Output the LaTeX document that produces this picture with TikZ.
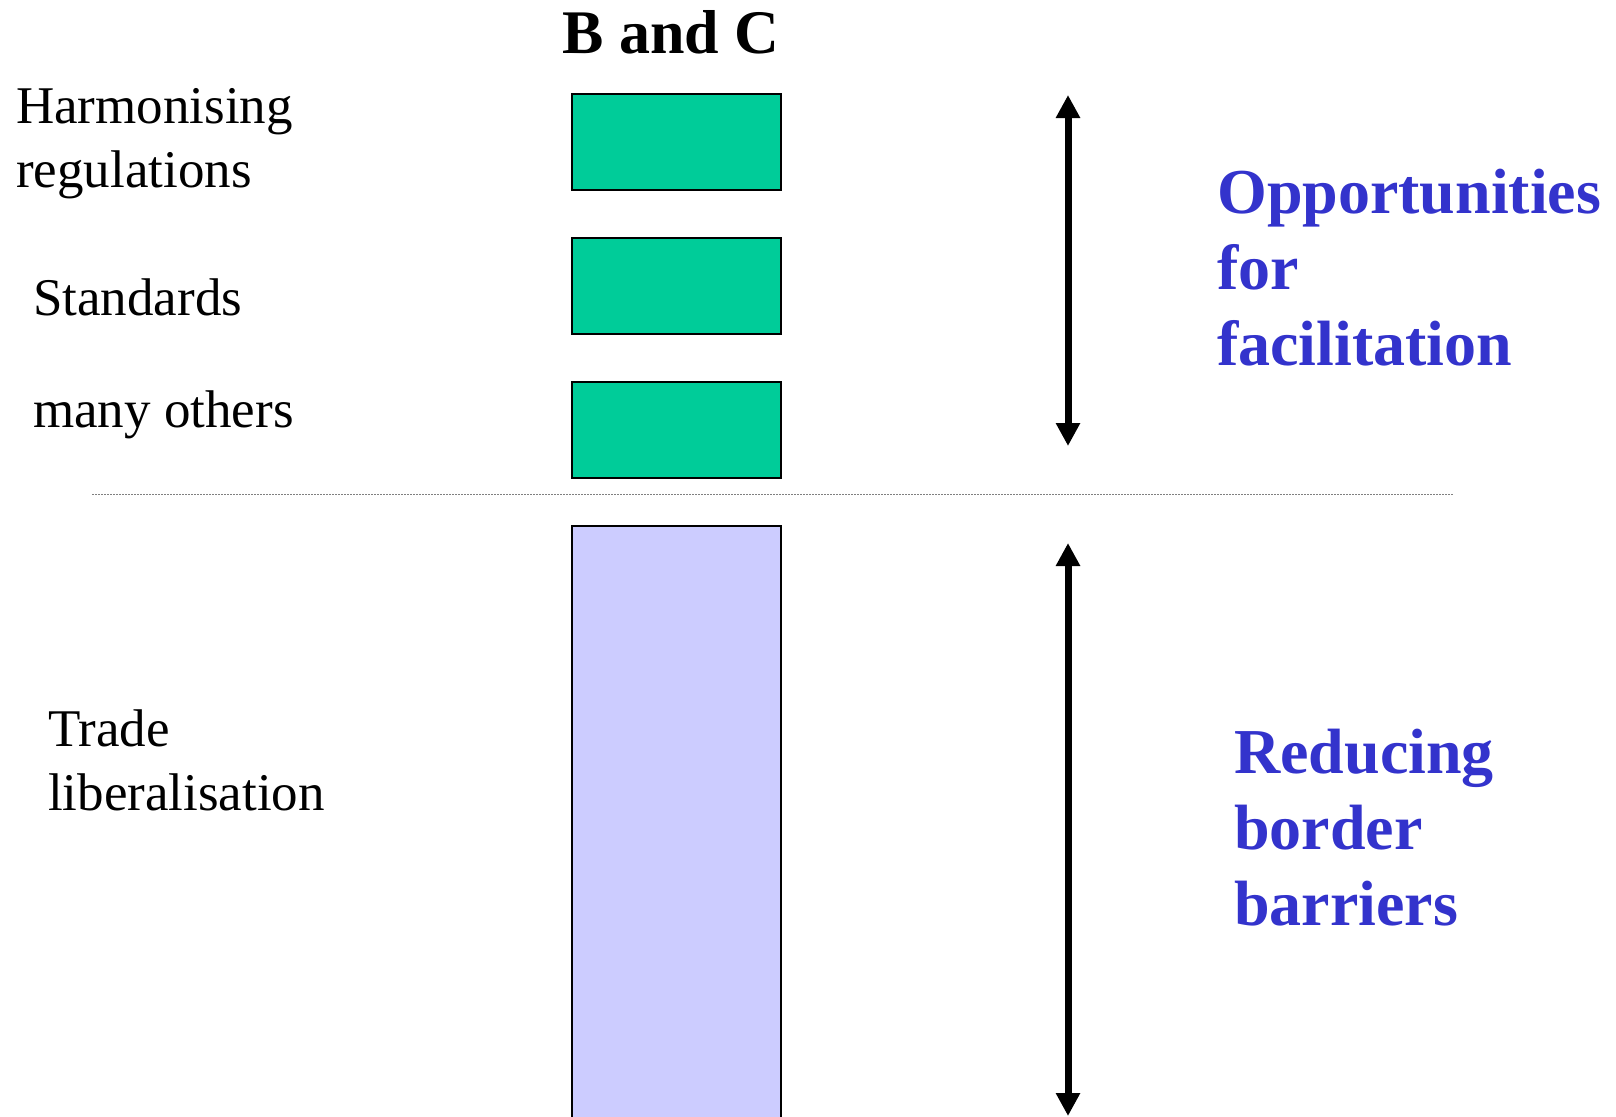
\documentclass[tikz,border=0pt]{standalone}
\usepackage{fontspec}
\setmainfont{Liberation Serif}
\usetikzlibrary{arrows.meta,positioning}
\definecolor{boxgreen}{HTML}{00CC99}
\definecolor{boxlilac}{HTML}{CCCCFF}
\definecolor{textblue}{HTML}{3333CC}
\tikzset{
  bar/.style={draw=black, line width=1.5pt, minimum width=209pt, inner sep=0pt},
  lbl/.style={anchor=base west, inner sep=0pt, align=left, font=\fontsize{53}{64}\selectfont},
  note/.style={anchor=base west, inner sep=0pt, align=left, text=textblue,
    font=\fontsize{64}{76}\selectfont\bfseries},
  dbl/.style={{Triangle[length=23pt,width=23pt]}-{Triangle[length=23pt,width=23pt]}, line width=7pt}
}
\begin{document}
\begin{tikzpicture}[x=1pt,y=-1pt]
            \useasboundingbox (0,0) rectangle (1616,1116);
            % Column heading
            \node[anchor=base, inner sep=0pt, font=\fontsize{62}{74}\selectfont\bfseries] (head) at (671,53) {B and C};

            % Green blocks
            \node[bar, fill=boxgreen, minimum height=96pt] (harm) at (676.5,142) {};
            \node[bar, fill=boxgreen, minimum height=96pt] (stand) at (676.5,286) {};
            \node[bar, fill=boxgreen, minimum height=96pt] (other) at (676.5,430) {};

            % Lilac block (runs off the page)
            \node[bar, fill=boxlilac, minimum height=610pt] (trade) at (676.5,831) {};

            % Left labels (base = last line)
            \node[lbl] (harmtxt) at (16,187) {Harmonising\\regulations};
            \node[lbl] (standtxt) at (33,315) {Standards};
            \node[lbl] (othertxt) at (33,427) {many others};
            \node[lbl] (tradetxt) at (48,810) {Trade\\liberalisation};

            % Divider
            \coordinate (divL) at (92,494);
            \coordinate (divR) at (1453,494);
            \draw[gray, line width=1pt, dash pattern=on 2pt off 1pt] (divL) -- (divR);

            % Span arrows
            \coordinate (facTop) at (1068,95);
            \coordinate (facBot) at (1068,446);
            \coordinate (redTop) at (1068,543);
            \coordinate (redBot) at (1068,1116);
            \draw[dbl] (facTop) -- (facBot);
            \draw[dbl] (redTop) -- (redBot);

            % Right notes
            \node[note] (factxt) at (1217,365) {Opportunities\\for\\facilitation};
            \node[note] (redtxt) at (1234,925) {Reducing\\border\\barriers};
        \end{tikzpicture}
\end{document}
